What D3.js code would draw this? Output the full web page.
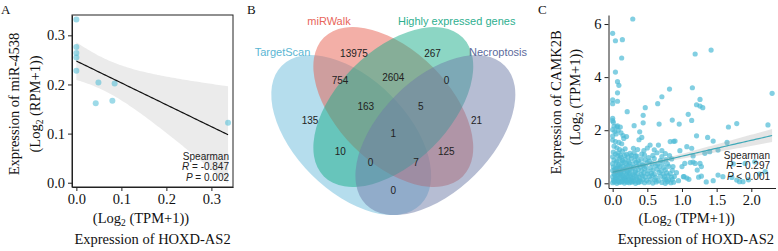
<!DOCTYPE html>
<html>
<head>
<meta charset="utf-8">
<script src="https://cdn.jsdelivr.net/npm/d3@7"></script>
<style>
    body { margin: 0; background: #fff; }
    svg { display: block; }
</style>
</head>
<body>
<div id="chart"></div>
<script>
// ---- panel A : HOXD-AS2 vs miR-4538 ----
const hoxdA = [0, 0, 0, 0, 0, 0.049, 0.043, 0.080, 0.085, 0.337];
const mir4538 = [0.332, 0.2765, 0.264, 0.255, 0.228, 0.204, 0.162, 0.167, 0.202, 0.122];
const ticksA = [0, 0.1, 0.2, 0.3];
const statsA = {method: "Spearman", r: "-0.847", p: "= 0.002"};

// ---- panel B : venn ----
const vennSets = ["TargetScan", "miRWalk", "Highly expressed genes", "Necroptosis"];
const vennRegions = ["M", "H", "TM", "MH", "HN", "TMH", "MHN", "T", "N", "TMHN", "TH", "MN", "THN", "TMN", "TN"];
const vennCounts = [13975, 267, 754, 2604, 0, 163, 5, 135, 21, 1, 10, 125, 0, 7, 0];

// ---- panel C : HOXD-AS2 vs CAMK2B ----
const ticksCx = [0, 0.5, 1.0, 1.5, 2.0];
const ticksCy = [0, 2, 4, 6];
const statsC = {method: "Spearman", r: "0.297", p: "< 0.001"};
const fitC = {intercept: 0.42, slope: 0.60};
const bandC = {center: 0.4, minHalf: 0.05, grow: 0.127};
const pointsC = [
    // upper scattered points
    [0.29,6.19],[0.00,5.65],[0.04,5.37],[0.14,5.41],[0.13,4.72],[1.19,4.87],[1.42,5.02],
    [0.04,4.19],[0.07,3.83],[0.09,3.69],[0.07,3.41],[0.00,3.14],[0.00,3.00],[0.07,3.09],
    [0.21,2.70],[0.31,2.17],[0.00,2.45],[0.00,2.36],[0.01,2.30],[0.07,2.16],[0.11,2.12],
    [0.44,2.56],[0.47,2.85],[0.44,2.28],[0.65,3.00],[0.71,3.26],[0.82,3.55],[0.86,2.38],
    [0.96,2.23],[1.15,3.60],[1.26,3.16],[1.21,2.96],[1.26,2.91],[1.30,2.85],[1.09,2.60],
    [1.14,2.37],[1.67,2.12],[1.79,2.25],[2.24,2.20],[2.30,3.39],[0.67,2.23],[0.39,1.94],
    // left column
    [0.00,2.02],[0.03,1.95],[0.08,2.00],[0.05,1.86],[0.12,1.90],[0.15,1.80],[0.20,1.76],
    [0.16,1.69],[0.00,1.63],[0.04,1.57],[0.09,1.54],[0.13,1.49],[0.02,1.40],[0.06,1.34],
    [0.10,1.27],[0.14,1.21],[0.18,1.30],[0.01,1.18],[0.04,1.10],[0.08,1.15],[0.11,1.06],
    [0.20,1.09],[0.00,1.78],[0.02,2.15],[0.06,2.13],
    // middle
    [0.42,1.73],[0.38,1.64],[0.54,1.44],[0.66,1.44],[0.83,1.57],[0.88,1.58],[0.30,1.32],
    [0.36,1.27],[0.45,1.23],[0.50,1.33],[0.25,1.13],[0.31,1.15],[0.27,1.05],[0.71,1.23],
    [0.76,1.12],[0.97,1.23],[1.14,1.32],[1.21,1.79],[1.37,1.73],[1.45,1.59],[1.65,1.54],
    [1.07,1.38],[0.90,1.59],[1.33,1.13],[1.40,1.19],[1.52,1.25],[1.16,1.03],[0.35,1.02],
    [0.42,1.10],[0.58,1.05],[0.64,1.15],[0.60,1.26],
    // lower right
    [1.12,0.78],[1.16,0.80],[1.00,0.63],[1.74,0.73],[1.91,0.75],[2.05,0.81],[1.22,0.50],
    [1.28,0.63],[1.07,0.20],[1.10,0.15],[1.03,0.25],[1.24,0.23],[1.28,0.27],[1.52,0.31],
    [1.59,0.25],[1.72,0.22],[1.79,0.12],[1.83,0.06],[1.88,0.06],[1.96,0.13],[2.20,0.44],
    [2.12,0.35],[1.04,0.75],[0.87,0.63],[1.19,0.75],[1.26,0.75],[1.02,0.25],[0.95,0.10],
    [0.92,0.40],[1.35,0.05],[1.45,0.10],
    // dense cluster
    [0.00,0.02],[0.03,0.05],[0.06,0.00],[0.10,0.03],[0.13,0.06],[0.17,0.01],[0.21,0.04],
    [0.24,0.02],[0.28,0.05],[0.33,0.00],[0.37,0.03],[0.41,0.06],[0.46,0.02],[0.52,0.04],
    [0.58,0.01],[0.63,0.05],[0.71,0.03],[0.76,0.00],[0.79,0.06],[0.84,0.02],[0.88,0.04],
    [0.01,0.12],[0.05,0.15],[0.08,0.10],[0.12,0.17],[0.15,0.13],[0.19,0.11],[0.23,0.16],
    [0.27,0.14],[0.30,0.10],[0.35,0.18],[0.39,0.12],[0.44,0.15],[0.49,0.11],[0.55,0.16],
    [0.61,0.13],[0.66,0.10],[0.74,0.17],[0.77,0.14],[0.81,0.12],[0.86,0.15],
    [0.00,0.25],[0.04,0.22],[0.07,0.28],[0.11,0.24],[0.14,0.30],[0.18,0.21],[0.22,0.27],
    [0.26,0.23],[0.31,0.29],[0.34,0.25],[0.38,0.22],[0.43,0.28],[0.47,0.24],[0.53,0.26],
    [0.57,0.30],[0.62,0.22],[0.69,0.27],[0.75,0.25],[0.80,0.29],[0.85,0.23],[0.89,0.26],
    [0.02,0.36],[0.05,0.40],[0.09,0.33],[0.12,0.38],[0.16,0.42],[0.20,0.35],[0.24,0.39],
    [0.29,0.34],[0.32,0.41],[0.36,0.37],[0.41,0.33],[0.45,0.40],[0.50,0.36],[0.56,0.38],
    [0.60,0.34],[0.67,0.41],[0.73,0.35],[0.78,0.39],[0.83,0.37],
    [0.00,0.48],[0.03,0.52],[0.07,0.45],[0.10,0.55],[0.14,0.49],[0.17,0.53],[0.21,0.46],
    [0.25,0.51],[0.28,0.54],[0.33,0.47],[0.37,0.52],[0.42,0.48],[0.46,0.55],[0.51,0.46],
    [0.58,0.50],[0.64,0.53],[0.70,0.47],[0.76,0.51],[0.86,0.49],
    [0.01,0.62],[0.04,0.58],[0.08,0.66],[0.11,0.61],[0.15,0.64],[0.19,0.59],[0.22,0.67],
    [0.26,0.63],[0.30,0.60],[0.35,0.65],[0.40,0.61],[0.44,0.68],[0.48,0.62],[0.55,0.59],
    [0.62,0.66],[0.68,0.63],[0.74,0.60],[0.81,0.64],
    [0.00,0.74],[0.05,0.78],[0.09,0.71],[0.13,0.76],[0.16,0.80],[0.20,0.73],[0.24,0.77],
    [0.29,0.72],[0.34,0.79],[0.38,0.75],[0.43,0.70],[0.50,0.78],[0.57,0.74],[0.65,0.72],
    [0.72,0.77],[0.79,0.73],
    [0.02,0.88],[0.06,0.84],[0.10,0.92],[0.14,0.86],[0.18,0.90],[0.23,0.83],[0.27,0.94],
    [0.32,0.87],[0.37,0.85],[0.41,0.91],[0.47,0.88],[0.53,0.84],[0.60,0.93],[0.69,0.86],
    [0.77,0.89],[0.85,0.92],
    [0.00,1.00],[0.07,1.03],[0.12,0.98],[0.17,1.05],[0.22,0.99],[0.33,1.02],[0.46,1.06],
    [0.52,0.97],[0.71,1.01],[0.82,1.04],
    [0.02,0.08],[0.05,0.19],[0.09,0.07],[0.12,0.30],[0.16,0.22],[0.20,0.08],[0.25,0.33],
    [0.27,0.05],[0.03,0.31],[0.08,0.42],[0.14,0.06],[0.18,0.16],[0.22,0.45],[0.29,0.19],
    [0.32,0.08],[0.06,0.57],[0.11,0.40],[0.19,0.28],[0.24,0.12],[0.38,0.06]
];

const serif = '"Liberation Serif", "Times New Roman", serif';
const sans = '"Liberation Sans", Arial, sans-serif';
const pointColor = "#4DBBD5";

let svg = d3.select("#chart").append("svg")
    .attr("width", 778)
    .attr("height", 251);

svg.append("rect").attr("width", 778).attr("height", 251).attr("fill", "#fff");

// small helper for the "(Log2 (xxx+1))" titles
function logTitle(g, x, y, inner, rotate) {
    let t = g.append("text")
        .attr("transform", "translate(" + x + "," + y + ")" + (rotate ? " rotate(-90)" : ""))
        .attr("text-anchor", "middle")
        .attr("font-family", serif)
        .attr("font-size", 14.5)
        .attr("fill", "#111");
    t.append("tspan").text("(Log");
    t.append("tspan").attr("dy", 3).attr("font-size", 9.5).text("2");
    t.append("tspan").attr("dy", -3).text(" (" + inner + "+1))");
    return t;
}

function plainText(g, x, y, txt, rotate) {
    return g.append("text")
        .attr("transform", "translate(" + x + "," + y + ")" + (rotate ? " rotate(-90)" : ""))
        .attr("text-anchor", "middle")
        .attr("font-family", serif)
        .attr("font-size", 14.5)
        .attr("fill", "#111")
        .text(txt);
}

function statsText(g, xRight, y0, s) {
    let t = g.append("g")
        .attr("font-family", sans)
        .attr("font-size", 10)
        .attr("fill", "#222")
        .attr("text-anchor", "end");
    t.append("text").attr("x", xRight).attr("y", y0).text(s.method);
    let r = t.append("text").attr("x", xRight).attr("y", y0 + 10.5);
    r.append("tspan").attr("font-style", "italic").text("R");
    r.append("tspan").text(" = " + s.r);
    let p = t.append("text").attr("x", xRight).attr("y", y0 + 21);
    p.append("tspan").attr("font-style", "italic").text("P");
    p.append("tspan").text(" " + s.p);
}

function styleAxis(g) {
    g.attr("font-family", serif).attr("font-size", 14.5);
    g.selectAll("text").attr("fill", "#111");
    g.selectAll("line").attr("stroke", "#222");
    g.select(".domain").attr("stroke", "#222");
}

// panel letters
svg.append("g").attr("font-family", serif).attr("font-size", 13).attr("fill", "#111")
    .selectAll("text")
    .data([["A", 1], ["B", 247], ["C", 538]])
    .enter()
    .append("text")
    .attr("x", d => d[1])
    .attr("y", 13.5)
    .text(d => d[0]);

// ================= panel A =================
{
    let g = svg.append("g");
    let x = d3.scaleLinear().domain([-0.0097, 0.348]).range([72, 233]);
    let y = d3.scaleLinear().domain([-0.0087, 0.3414]).range([187, 15]);

    // linear fit + 95% band
    let n = hoxdA.length;
    let mx = d3.mean(hoxdA), my = d3.mean(mir4538);
    let sxx = d3.sum(hoxdA, d => (d - mx) * (d - mx));
    let sxy = d3.sum(hoxdA, (d, i) => (d - mx) * (mir4538[i] - my));
    let slope = sxy / sxx;
    let icpt = my - slope * mx;
    let ssr = d3.sum(hoxdA, (d, i) => Math.pow(mir4538[i] - (icpt + slope * d), 2));
    let s = Math.sqrt(ssr / (n - 2));
    let tq = 2.306;
    let xs = d3.range(0, 81).map(i => d3.min(hoxdA) + (d3.max(hoxdA) - d3.min(hoxdA)) * i / 80);
    let band = xs.map(v => {
        let fit = icpt + slope * v;
        let se = s * Math.sqrt(1 / n + (v - mx) * (v - mx) / sxx);
        return {x: v, fit: fit, lo: fit - tq * se, hi: fit + tq * se};
    });

    g.append("path")
        .datum(band)
        .attr("d", d3.area().x(d => x(d.x)).y0(d => y(d.lo)).y1(d => y(d.hi)))
        .attr("fill", "#999")
        .attr("opacity", 0.2);

    g.selectAll(".ptA")
        .data(hoxdA.map((d, i) => [d, mir4538[i]]))
        .enter()
        .append("circle")
        .attr("class", "ptA")
        .attr("cx", d => x(d[0]))
        .attr("cy", d => y(d[1]))
        .attr("r", 3)
        .attr("fill", pointColor)
        .attr("opacity", 0.55);

    g.append("path")
        .datum(band)
        .attr("d", d3.line().x(d => x(d.x)).y(d => y(d.fit)))
        .attr("fill", "none")
        .attr("stroke", "#111")
        .attr("stroke-width", 1.2);

    g.append("rect")
        .attr("x", 72).attr("y", 15).attr("width", 161).attr("height", 172)
        .attr("fill", "none").attr("stroke", "#222").attr("stroke-width", 1);

    g.append("g")
        .attr("transform", "translate(72,0)")
        .call(d3.axisLeft(y).tickValues(ticksA).tickFormat(d3.format(".1f")).tickSize(4).tickSizeOuter(0).tickPadding(3))
        .call(styleAxis);
    g.append("g")
        .attr("transform", "translate(0,187)")
        .call(d3.axisBottom(x).tickValues(ticksA).tickFormat(d3.format(".1f")).tickSize(4).tickSizeOuter(0).tickPadding(3))
        .call(styleAxis);

    statsText(g, 229, 159.5, statsA);

    logTitle(g, 141, 223, "TPM", false);
    plainText(g, 152.5, 243.5, "Expression of HOXD-AS2", false);
    plainText(g, 19, 104, "Expression of miR-4538", true);
    logTitle(g, 39.5, 104, "RPM", true);
}

// ================= panel B =================
{
    let g = svg.append("g");
    let u = d3.scaleLinear().domain([0, 1]).range([253.05, 533.55]);
    let v = d3.scaleLinear().domain([0, 1]).range([266.9, -13.6]);
    let unit = 280.5;

    let ellipses = [
        {cx: 0.35, cy: 0.47, rot: 45, color: "#6BBBDB"},
        {cx: 0.50, cy: 0.57, rot: 45, color: "#E8604F"},
        {cx: 0.50, cy: 0.57, rot: -45, color: "#1AAE8A"},
        {cx: 0.65, cy: 0.47, rot: -45, color: "#6E7BA8"}
    ];
    g.selectAll(".venn")
        .data(ellipses)
        .enter()
        .append("ellipse")
        .attr("class", "venn")
        .attr("cx", d => u(d.cx))
        .attr("cy", d => v(d.cy))
        .attr("rx", 0.35 * unit)
        .attr("ry", 0.20 * unit)
        .attr("transform", d => "rotate(" + d.rot + "," + u(d.cx) + "," + v(d.cy) + ")")
        .attr("fill", d => d.color)
        .attr("fill-opacity", 0.5)
        .attr("stroke", "none");

    let labelPos = {
        M: [0.36, 0.761], H: [0.64, 0.761], TM: [0.31, 0.666], MH: [0.5, 0.676], HN: [0.69, 0.666],
        TMH: [0.402, 0.571], MHN: [0.598, 0.571], T: [0.203, 0.521], N: [0.797, 0.521],
        TMHN: [0.5, 0.474], TH: [0.311, 0.413], MN: [0.689, 0.413], THN: [0.419, 0.373],
        TMN: [0.581, 0.373], TN: [0.5, 0.271]
    };
    g.selectAll(".count")
        .data(vennRegions.map((r, i) => ({region: r, count: vennCounts[i]})))
        .enter()
        .append("text")
        .attr("class", "count")
        .attr("x", d => u(labelPos[d.region][0]))
        .attr("y", d => v(labelPos[d.region][1]))
        .attr("dy", "0.35em")
        .attr("text-anchor", "middle")
        .attr("font-family", sans)
        .attr("font-size", 10)
        .attr("fill", "#222")
        .text(d => d.count);

    let catPos = [[282.5, 55.5, "#5BB6D3"], [329, 24.5, "#E8655A"], [456.7, 24.5, "#2EAF8F"], [498, 55.5, "#5C6B9C"]];
    g.selectAll(".cat")
        .data(vennSets)
        .enter()
        .append("text")
        .attr("class", "cat")
        .attr("x", (d, i) => catPos[i][0])
        .attr("y", (d, i) => catPos[i][1])
        .attr("text-anchor", "middle")
        .attr("font-family", sans)
        .attr("font-size", 11)
        .attr("fill", (d, i) => catPos[i][2])
        .text(d => d);
}

// ================= panel C =================
{
    let g = svg.append("g");
    let x = d3.scaleLinear().domain([-0.06, 2.349]).range([608.5, 775.5]);
    let y = d3.scaleLinear().domain([-0.177, 6.34]).range([188, 15]);

    g.selectAll(".ptC")
        .data(pointsC)
        .enter()
        .append("circle")
        .attr("class", "ptC")
        .attr("cx", d => x(d[0]))
        .attr("cy", d => y(d[1]))
        .attr("r", 2.6)
        .attr("fill", pointColor)
        .attr("opacity", 0.7);

    let xmax = d3.max(pointsC, d => d[0]);
    let band = d3.range(0, 61).map(i => {
        let xv = xmax * i / 60;
        let fit = fitC.intercept + fitC.slope * xv;
        let h = Math.sqrt(bandC.minHalf * bandC.minHalf + Math.pow(bandC.grow * (xv - bandC.center), 2));
        return {x: xv, fit: fit, lo: fit - h, hi: fit + h};
    });
    g.append("path")
        .datum(band)
        .attr("d", d3.area().x(d => x(d.x)).y0(d => y(d.lo)).y1(d => y(d.hi)))
        .attr("fill", "#999")
        .attr("opacity", 0.25);
    g.append("path")
        .datum(band)
        .attr("d", d3.line().x(d => x(d.x)).y(d => y(d.fit)))
        .attr("fill", "none")
        .attr("stroke", "#3FA9B8")
        .attr("stroke-width", 1.2);

    g.append("g")
        .attr("transform", "translate(608.5,0)")
        .call(d3.axisLeft(y).tickValues(ticksCy).tickFormat(d3.format("d")).tickSize(4).tickSizeOuter(0).tickPadding(3))
        .call(styleAxis);
    g.append("g")
        .attr("transform", "translate(0,188)")
        .call(d3.axisBottom(x).tickValues(ticksCx).tickFormat(d3.format(".1f")).tickSize(4).tickSizeOuter(0).tickPadding(3))
        .call(styleAxis);

    statsText(g, 770, 158.5, statsC);

    logTitle(g, 686.7, 223, "TPM", false);
    plainText(g, 695.8, 243.5, "Expression of HOXD-AS2", false);
    plainText(g, 561, 102.5, "Expression of CAMK2B", true);
    logTitle(g, 579.5, 97, "TPM", true);
}
</script>
</body>
</html>
